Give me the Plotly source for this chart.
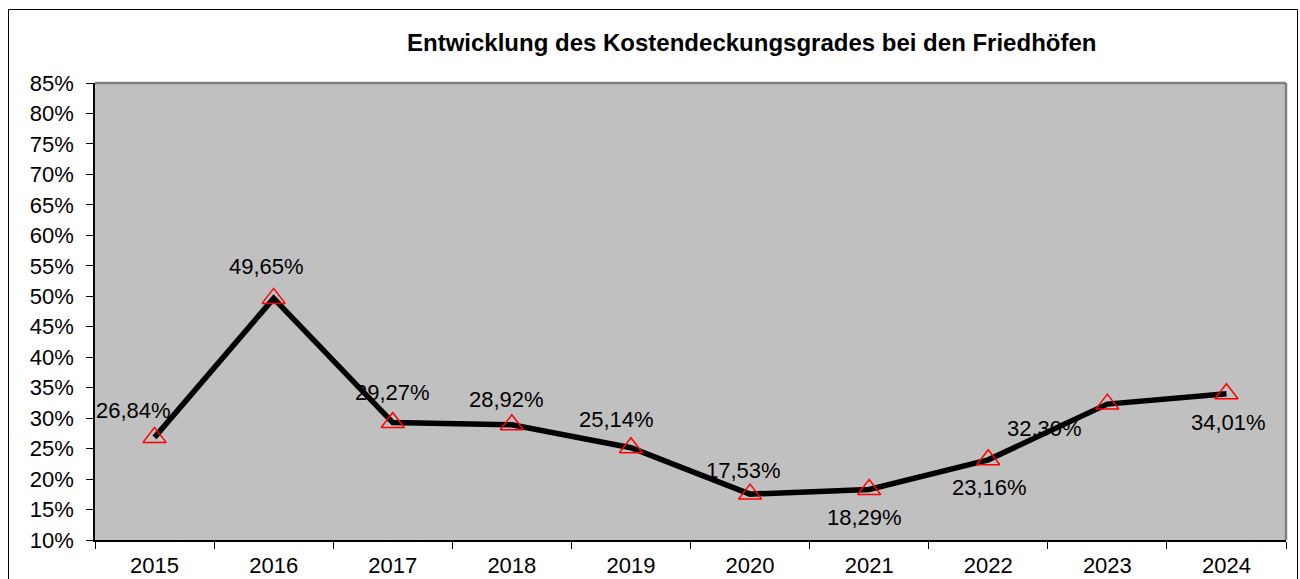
import plotly.graph_objects as go

# ---- data ----
years = ["2015", "2016", "2017", "2018", "2019", "2020", "2021", "2022", "2023", "2024"]
coverage_pct = [26.84, 49.65, 29.27, 28.92, 25.14, 17.53, 18.29, 23.16, 32.30, 34.01]
title_text = "Entwicklung des Kostendeckungsgrades bei den Friedhöfen"

# ---- label placement (styling) ----
label_dx = [-21, -7, 0, -5, -14, -7, -5, 1, -63, 2]
label_dy = [27, 32, 30, 25, 28, 24, -28, -28, -24, -29]

FONT = "Liberation Sans, Arial, sans-serif"

W, H = 1300, 579
L, T = 95, 83
R = W - 1286
B = H - 540
pw, ph = W - L - R, H - T - B


def px_x(p):
    return (p - L) / pw


def px_y(p):
    return (H - B - p) / ph


fig = go.Figure()
fig.add_trace(go.Scatter(
    x=years, y=coverage_pct, mode="lines+markers",
    line=dict(color="black", width=5.5),
    marker=dict(symbol="triangle-up-open", size=20, color="red",
                line=dict(color="red", width=1.5)),
    hoverinfo="x+y", showlegend=False,
))


def fmt(v):
    return f"{v:.2f}".replace(".", ",") + "%"


annotations = []
for i, (v, dx, dy) in enumerate(zip(coverage_pct, label_dx, label_dy)):
    annotations.append(dict(
        x=i, y=v, xref="x", yref="y", text=fmt(v), showarrow=False,
        xanchor="center", yanchor="middle",
        xshift=dx, yshift=dy, font=dict(family=FONT, size=22, color="black"),
    ))

annotations.append(dict(
    x=px_x(751), y=px_y(42), xref="paper", yref="paper", text=f"<b>{title_text}</b>",
    xanchor="center", yanchor="middle",
    showarrow=False, font=dict(family=FONT, size=24, color="black"),
))

shapes = [
    # outer frame
    dict(type="line", xref="paper", yref="paper", x0=px_x(8.5), x1=px_x(8.5), y0=px_y(620), y1=px_y(9.5),
         line=dict(color="black", width=1)),
    dict(type="line", xref="paper", yref="paper", x0=px_x(8.5), x1=px_x(1297.5), y0=px_y(9.5), y1=px_y(9.5),
         line=dict(color="black", width=1)),
    dict(type="line", xref="paper", yref="paper", x0=px_x(1297.5), x1=px_x(1297.5), y0=px_y(9.5), y1=px_y(620),
         line=dict(color="black", width=1)),
    # plot area top/right border (gray)
    dict(type="line", xref="paper", yref="paper", x0=0, x1=1, y0=1, y1=1,
         line=dict(color="#808080", width=2.5)),
    dict(type="line", xref="paper", yref="paper", x0=1, x1=1, y0=0, y1=1,
         line=dict(color="#808080", width=2.5)),
]

fig.update_layout(
    width=W, height=H,
    margin=dict(l=L, r=R, t=T, b=B, pad=0, autoexpand=False),
    paper_bgcolor="white", plot_bgcolor="#C0C0C0",
    font=dict(family=FONT, size=22, color="black"),
    annotations=annotations, shapes=shapes,
    xaxis=dict(type="category", range=[-0.5, 9.5], showgrid=False, zeroline=False,
               automargin=False,
               showline=True, linecolor="black", linewidth=1.5,
               ticks="outside", ticklen=7, tickcolor="black", tickson="boundaries",
               ticklabelstandoff=5,
               tickfont=dict(family=FONT, size=22, color="black")),
    yaxis=dict(range=[10, 85], dtick=5, tick0=10, ticksuffix="%", showgrid=False,
               automargin=False,
               zeroline=False, showline=True, linecolor="black", linewidth=1.5,
               ticks="outside", ticklen=7, tickcolor="black", ticklabelstandoff=8,
               tickfont=dict(family=FONT, size=22, color="black")),
)

fig.write_html(
    "out.html",
    config={"displayModeBar": False},
    post_script=(
        "document.documentElement.style.margin='0';"
        "document.documentElement.style.overflow='hidden';"
        "document.body.style.margin='0';"
        "document.body.style.overflow='hidden';"
    ),
)
